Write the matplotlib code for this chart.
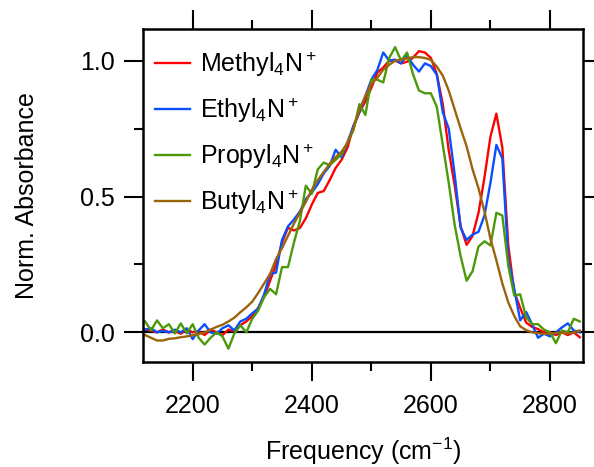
import numpy as np
import matplotlib
matplotlib.use("Agg")
import matplotlib.pyplot as plt
from matplotlib.ticker import MultipleLocator

plt.rcParams.update({
    "font.family": ["Liberation Sans", "DejaVu Sans"],
    "font.size": 18,
    "mathtext.fontset": "custom",
    "mathtext.rm": "Liberation Sans",
    "mathtext.it": "Liberation Sans",
    "mathtext.default": "regular",
})

# frequency grid (cm-1), read every 10 cm-1 off the spectra
freq = np.arange(2120, 2851, 10)

methyl = [
    0.010, 0.007, 0.000, 0.010, 0.000, 0.005, -0.005, 0.010, 0.000, 0.005,
    -0.010, 0.010, 0.000, -0.010, 0.010, 0.005, 0.026, 0.040, 0.060, 0.090,
    0.130, 0.190, 0.250, 0.330, 0.385, 0.375, 0.384, 0.420, 0.470, 0.513,
    0.520, 0.560, 0.605, 0.635, 0.680, 0.760, 0.810, 0.850, 0.900, 0.956,
    0.975, 1.000, 1.000, 0.990, 0.996, 1.011, 1.035, 1.030, 1.010, 0.950,
    0.840, 0.670, 0.540, 0.390, 0.322, 0.355, 0.440, 0.570, 0.720, 0.805,
    0.680, 0.320, 0.150, 0.090, 0.036, 0.020, 0.012, 0.000, 0.000, -0.010,
    0.000, -0.010, 0.000, -0.018,
]
ethyl = [
    0.010, 0.015, 0.000, 0.005, 0.000, 0.010, 0.000, 0.015, -0.025, 0.007,
    0.030, 0.000, -0.005, 0.015, 0.026, 0.007, 0.040, 0.050, 0.070, 0.088,
    0.140, 0.215, 0.220, 0.340, 0.390, 0.415, 0.445, 0.490, 0.515, 0.545,
    0.585, 0.612, 0.672, 0.645, 0.700, 0.760, 0.810, 0.870, 0.930, 0.965,
    1.030, 1.000, 1.004, 0.990, 1.020, 0.985, 0.960, 0.990, 0.980, 0.948,
    0.810, 0.750, 0.580, 0.385, 0.340, 0.360, 0.370, 0.430, 0.550, 0.690,
    0.640, 0.270, 0.160, 0.044, 0.075, 0.030, -0.020, -0.005, -0.015, 0.000,
    0.018, 0.033, 0.007, 0.000,
]
propyl = [
    0.040, 0.007, 0.044, 0.015, 0.030, -0.004, 0.033, -0.004, 0.030, -0.020,
    -0.045, -0.020, 0.000, -0.015, -0.060, -0.004, 0.026, 0.000, 0.050, 0.080,
    0.130, 0.160, 0.140, 0.240, 0.240, 0.330, 0.410, 0.540, 0.510, 0.600,
    0.625, 0.615, 0.635, 0.655, 0.700, 0.745, 0.840, 0.800, 0.930, 0.930,
    0.920, 1.010, 1.050, 1.000, 1.030, 0.950, 0.890, 0.880, 0.880, 0.830,
    0.690, 0.550, 0.395, 0.280, 0.190, 0.225, 0.316, 0.335, 0.320, 0.440,
    0.430, 0.245, 0.135, 0.140, 0.055, 0.030, 0.030, 0.010, 0.000, -0.040,
    0.007, 0.000, 0.050, 0.040,
]
butyl = [
    -0.010, -0.020, -0.030, -0.030, -0.024, -0.022, -0.018, -0.015, -0.011, -0.007,
    0.000, 0.010, 0.020, 0.028, 0.040, 0.054, 0.074, 0.092, 0.113, 0.145,
    0.180, 0.215, 0.270, 0.310, 0.355, 0.400, 0.440, 0.480, 0.525, 0.560,
    0.590, 0.620, 0.645, 0.665, 0.697, 0.750, 0.820, 0.870, 0.915, 0.937,
    0.967, 0.985, 1.000, 1.004, 1.008, 1.013, 1.013, 1.010, 1.003, 0.978,
    0.945, 0.890, 0.820, 0.750, 0.685, 0.600, 0.530, 0.445, 0.345, 0.265,
    0.180, 0.110, 0.060, 0.022, 0.008, 0.000, -0.003, -0.006, -0.005, -0.002,
    0.000, -0.004, 0.000, 0.007,
]

labels = ["Methyl$_4$N$^+$", "Ethyl$_4$N$^+$", "Propyl$_4$N$^+$", "Butyl$_4$N$^+$"]
colors = ["#ff0000", "#0a4fff", "#4c9a0a", "#9a640a"]

fig = plt.figure(figsize=(5.94, 4.67), dpi=100)
ax = fig.add_axes([0.2407, 0.2238, 0.7407, 0.7141])

for ys, lab, c in zip([methyl, ethyl, propyl, butyl], labels, colors):
    ax.plot(freq, ys, color=c, lw=1.7, label=lab)

ax.axhline(0, color="black", lw=1.6, zorder=0)

ax.set_xlim(2116.5, 2855.4)
ax.set_ylim(-0.111, 1.1166)
ax.xaxis.set_major_locator(MultipleLocator(200))
ax.xaxis.set_minor_locator(MultipleLocator(100))
ax.yaxis.set_major_locator(MultipleLocator(0.5))
ax.yaxis.set_minor_locator(MultipleLocator(0.25))
ax.tick_params(which="both", direction="out", top=True, right=True, width=1.5)
ax.tick_params(which="major", length=13.5)
ax.tick_params(which="minor", length=6.5)
ax.tick_params(axis="y", pad=7)
ax.tick_params(axis="x", pad=9)
for s in ax.spines.values():
    s.set_linewidth(1.8)

ax.set_xlabel("Frequency (cm$^{-1}$)", labelpad=13)
ax.set_ylabel("Norm. Absorbance", labelpad=29)

ax.legend(loc="upper left", bbox_to_anchor=(0.0, 0.975), frameon=False,
          handlelength=1.4, handletextpad=0.4, labelspacing=0.66,
          borderaxespad=0.3, borderpad=0.2)

fig.savefig("out.png", dpi=100)
